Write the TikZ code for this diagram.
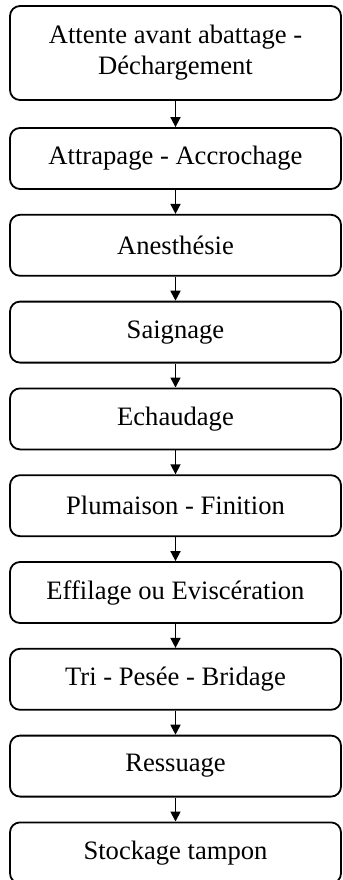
\documentclass[tikz,border=0pt]{standalone}
\usepackage{fontspec}
\setmainfont{Liberation Serif}
\usetikzlibrary{arrows.meta}
\begin{document}
\begin{tikzpicture}[x=0.5pt, y=-0.5pt, >={Triangle[length=5pt,width=5pt]}, line width=0.9pt,
  stage/.style={rectangle,rounded corners=5pt,draw,minimum width=165.5pt,minimum height=30.5pt,inner sep=0pt,align=center,font=\fontsize{13.3}{15.5}\selectfont}]
\clip (0,0) rectangle (343,880);
\node [stage,minimum height=47pt](s1) at (175.5,53) {Attente avant abattage -\\Déchargement};
\node [stage](s2) at (175.5,158.5) {Attrapage - Accrochage};
\node [stage](s3) at (175.5,245.3) {Anesthésie};
\node [stage](s4) at (175.5,332.1) {Saignage};
\node [stage](s5) at (175.5,418.9) {Echaudage};
\node [stage](s6) at (175.5,505.7) {Plumaison - Finition};
\node [stage](s7) at (175.5,592.5) {Effilage ou Eviscération};
\node [stage](s8) at (175.5,679.3) {Tri - Pesée - Bridage};
\node [stage](s9) at (175.5,766.1) {Ressuage};
\node [stage](s10) at (175.5,852.9) {Stockage tampon};
\path [->, line width=0.85pt]
	(s1) edge (s2)
	(s2) edge (s3)
	(s3) edge (s4)
	(s4) edge (s5)
	(s5) edge (s6)
	(s6) edge (s7)
	(s7) edge (s8)
	(s8) edge (s9)
	(s9) edge (s10)
	;
\end{tikzpicture}
\end{document}
